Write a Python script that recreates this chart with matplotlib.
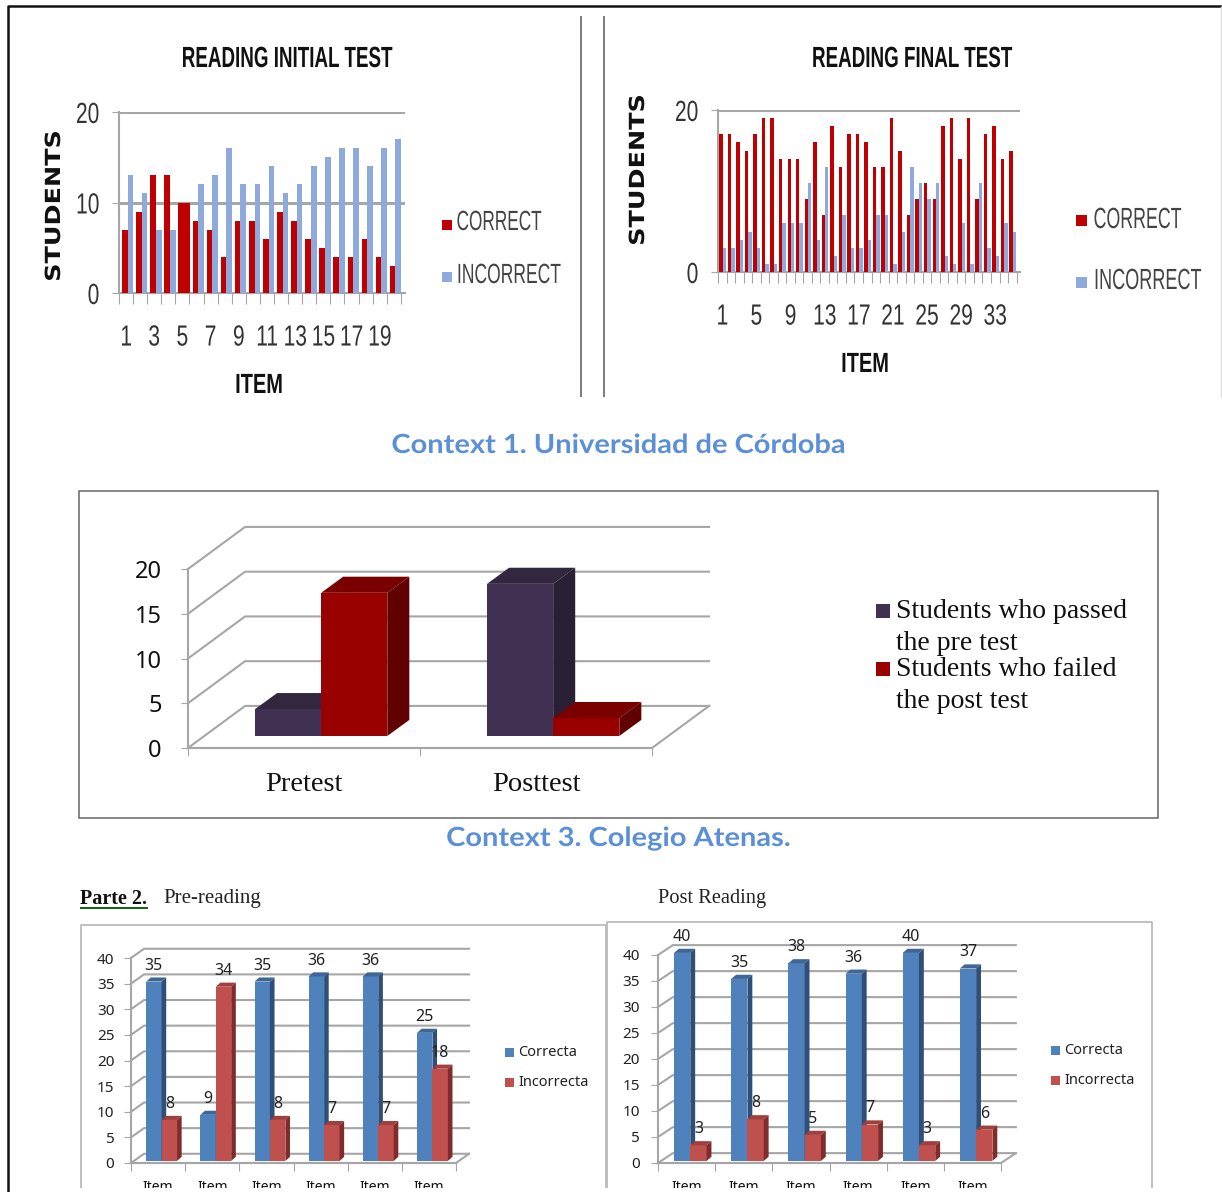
import numpy as np
import matplotlib
matplotlib.use("Agg")
import matplotlib.pyplot as plt
from matplotlib.patches import Rectangle
from matplotlib.patheffects import AbstractPathEffect
from matplotlib.transforms import Affine2D

# data
initial_correct = [7, 9, 13, 13, 10, 8, 7, 4, 8, 8, 6, 9, 8, 6, 5, 4, 4, 6, 4, 3]
initial_incorrect = [13, 11, 7, 7, 10, 12, 13, 16, 12, 12, 14, 11, 12, 14, 15, 16, 16, 14, 16, 17]
final_correct = [17, 17, 16, 15, 17, 19, 19, 14, 14, 14, 9, 16, 7, 18, 13, 17, 17, 16,
                 13, 13, 19, 15, 7, 9, 11, 9, 18, 19, 14, 19, 9, 17, 18, 14, 15]
final_incorrect = [3, 3, 4, 5, 3, 1, 1, 6, 6, 6, 11, 4, 13, 2, 7, 3, 3, 4,
                   7, 7, 1, 5, 13, 11, 9, 11, 2, 1, 6, 1, 11, 3, 2, 6, 5]
atenas_groups = ["Pretest", "Posttest"]
atenas_passed = [3, 17]
atenas_failed = [16, 2]
pre_correct = [35, 9, 35, 36, 36, 25]
pre_incorrect = [8, 34, 8, 7, 7, 18]
post_correct = [40, 35, 38, 36, 40, 37]
post_incorrect = [3, 8, 5, 7, 3, 6]
item_labels = ["Item"] * 6

W, H = 1222, 1192
SANS = ["Liberation Sans", "DejaVu Sans"]
SERIF = ["Liberation Serif", "DejaVu Serif"]
NOTO = ["Noto Sans", "DejaVu Sans"]
GREY = "#a6a6a6"
RED = "#c00000"
LBLUE = "#8ea9db"
CAPTION = "#5b8fd6"
BLUE3D = ["#4f81bd", "#3f6796", "#2f4f78"]
RED3D = ["#c0504d", "#a03f3c", "#7f2c2a"]
PURPLE3D = ["#403152", "#32273f", "#2a2035"]
DRED3D = ["#990000", "#7a0000", "#600000"]


class Squeeze(AbstractPathEffect):
    # no condensed font installed, so scale the glyphs sideways
    def __init__(self, sx, anchor=0.5):
        super().__init__()
        self.sx = sx
        self.anchor = anchor

    def draw_path(self, renderer, gc, tpath, affine, rgbFace=None):
        b = tpath.get_extents()
        c = b.x0 + (b.x1 - b.x0) * self.anchor
        t = Affine2D().translate(-c, 0).scale(self.sx, 1).translate(c, 0)
        renderer.draw_path(gc, tpath, t + affine, rgbFace)


fig = plt.figure(figsize=(W / 100, H / 100), dpi=100)


def axes_at(left, right, y0, ytop):
    ax = fig.add_axes([left / W, 1 - y0 / H, (right - left) / W, (y0 - ytop) / H])
    ax.patch.set_visible(False)
    for s in ["top", "right"]:
        ax.spines[s].set_visible(False)
    for s in ["left", "bottom"]:
        ax.spines[s].set_color(GREY)
        ax.spines[s].set_linewidth(1.5)
    return ax


def flat_chart(ax, correct, incorrect, width, shift, yticks, label_step):
    n = len(correct)
    x = np.arange(1, n + 1)
    colors = [RED if c == i else LBLUE for c, i in zip(correct, incorrect)]
    ax.bar(x - width + shift, correct, width, align="edge", color=RED, zorder=3)
    ax.bar(x + shift, incorrect, width, align="edge", color=colors, zorder=3)
    ax.set_ylim(0, 20)
    ax.set_yticks(yticks)
    ax.yaxis.grid(True, color=GREY, lw=2.2, zorder=1)
    ax.set_axisbelow(True)
    ax.set_xticks(np.arange(0.5, n + 1))
    ax.set_xticklabels([])
    ax.set_xticks(x[::label_step], minor=True)
    ax.set_xticklabels([str(v) for v in x[::label_step]], minor=True, family=SANS, fontsize=21, color="#333333")
    ax.tick_params(axis="x", which="major", length=8, color=GREY)
    ax.tick_params(axis="x", which="minor", length=0, pad=22)
    ax.tick_params(axis="y", length=5, color=GREY, labelsize=21, labelcolor="#333333", pad=9)
    for lab in ax.get_yticklabels():
        lab.set_family(SANS)
        lab.set_path_effects([Squeeze(0.72, 1)])
    for lab in ax.get_xticklabels(minor=True):
        lab.set_path_effects([Squeeze(0.72)])


def bar3d(ax, x, h, w, base, dx, dy, cols):
    ax.bar(x, h, w, bottom=base, align="edge", color=cols[0], zorder=5, clip_on=False)
    ax.fill([x, x + dx, x + w + dx, x + w], [base + h, base + h + dy, base + h + dy, base + h],
            color=cols[1], lw=0, zorder=5, clip_on=False)
    ax.fill([x + w, x + w + dx, x + w + dx, x + w], [base, base + dy, base + h + dy, base + h],
            color=cols[2], lw=0, zorder=5, clip_on=False)


def walls(ax, ticks, xmax, dx, dy, lw=1.5):
    for v in ticks:
        ax.plot([0, dx, xmax + dx], [v, v + dy, v + dy], color=GREY, lw=lw, zorder=1, clip_on=False)
    ax.plot([0, xmax, xmax + dx], [0, 0, dy], color=GREY, lw=lw, zorder=1, clip_on=False)


def chart3d(ax, series, colors, labels, ymax, step, width, shift, base, dx, dy, bdx, bdy, size, family, pad):
    n = len(labels)
    ax.set_xlim(0, n)
    ax.set_ylim(0, ymax)
    ticks = list(range(0, ymax + 1, step))
    walls(ax, ticks, n, dx, dy)
    for i in range(n):
        for k, vals in enumerate(series):
            bar3d(ax, i + shift + k * width, vals[i], width, base, bdx, bdy, colors[k])
    ax.set_yticks(ticks)
    ax.set_xticks(range(n + 1))
    ax.set_xticklabels([])
    ax.set_xticks(np.arange(n) + 0.5, minor=True)
    ax.set_xticklabels(labels, minor=True, family=family, fontsize=size, color="#111111")
    ax.tick_params(axis="x", which="major", length=6, color=GREY)
    ax.tick_params(axis="x", which="minor", length=0, pad=pad)
    ax.tick_params(axis="y", length=5, color=GREY, pad=4)


# Context 1 charts
ax1 = axes_at(119, 405, 293, 112)
ax1.set_xlim(0.5, 20.8)
flat_chart(ax1, initial_correct, initial_incorrect, 0.4, 0.12, [0, 10, 20], 2)

ax2 = axes_at(718, 1020, 272, 110)
ax2.set_xlim(0.5, 35.9)
flat_chart(ax2, final_correct, final_incorrect, 0.4, 0.05, [0, 20], 4)

# Context 3 chart
ax3 = axes_at(188, 652, 748, 569)
chart3d(ax3, [atenas_passed, atenas_failed], [PURPLE3D, DRED3D], atenas_groups, 20, 5,
        0.285, 0.289, 1.34, 0.246, 4.7, 0.095, 1.8, 20.5, SERIF, 17.5)
ax3.tick_params(axis="y", labelsize=17, labelcolor="#111111", pad=14)

# Pre reading
ax4 = axes_at(131, 456, 1163, 958)
chart3d(ax4, [pre_correct, pre_incorrect], [BLUE3D, RED3D], item_labels, 40, 5,
        0.285, 0.28, 0.4, 0.24, 1.8, 0.085, 0.8, 10, NOTO, 12)
ax4.tick_params(axis="y", labelsize=11, labelcolor="#222222", pad=7)

# Post reading
ax5 = axes_at(658, 1001, 1163, 955)
chart3d(ax5, [post_correct, post_incorrect], [BLUE3D, RED3D], item_labels, 40, 5,
        0.285, 0.28, 0.4, 0.26, 1.9, 0.085, 0.8, 10, NOTO, 12)
ax5.tick_params(axis="y", labelsize=11, labelcolor="#222222", pad=8)

for ax, vals_a, vals_b in [(ax4, pre_correct, pre_incorrect), (ax5, post_correct, post_incorrect)]:
    for i in range(6):
        ax.text(i + 0.28 + 0.142, vals_a[i] + 3.5, str(vals_a[i]), ha="center", va="center",
                fontsize=11.5, color="#222222", family=NOTO, zorder=8, clip_on=False)
        ax.text(i + 0.565 + 0.142, vals_b[i] + 3.5, str(vals_b[i]), ha="center", va="center",
                fontsize=11.5, color="#222222", family=NOTO, zorder=8, clip_on=False)

for ax in [ax3, ax4, ax5]:
    for lab in ax.get_yticklabels():
        lab.set_family(NOTO)

# page furniture, in pixel coordinates
page = fig.add_axes([0, 0, 1, 1], zorder=10)
page.set_xlim(0, W)
page.set_ylim(H, 0)
page.axis("off")


def line(xs, ys, color="#111111", lw=1.5):
    page.plot(xs, ys, color=color, lw=lw, solid_capstyle="butt")


def label(x, y, s, size, color="#222222", family=SANS, weight="normal", ha="left", rotation=0, sx=None):
    t = page.text(x, y, s, fontsize=size, color=color, family=family, weight=weight,
                  ha=ha, va="center", rotation=rotation)
    if sx is not None:
        t.set_path_effects([Squeeze(sx, 0 if ha == "left" else 0.5)])
    return t


def swatch(x, y, size, color):
    page.add_patch(Rectangle((x, y - size / 2), size, size, color=color, lw=0))


line([8, 8, 1222], [1192, 6, 6], lw=1.8)
line([581, 581], [16, 397], "#666666", 1.2)
line([604, 604], [16, 397], "#666666", 1.2)
line([1221, 1221], [6, 397], "#dddddd", 1)

label(287, 59, "READING INITIAL TEST", 21, "#111111", weight="bold", ha="center", sx=0.645)
label(912, 59, "READING FINAL TEST", 21, "#111111", weight="bold", ha="center", sx=0.645)
label(259, 386, "ITEM", 20, "#111111", weight="bold", ha="center", sx=0.72)
label(865, 365, "ITEM", 20, "#111111", weight="bold", ha="center", sx=0.72)
label(54, 206, "STUDENTS", 15, "#111111", ["DejaVu Sans"], "bold", "center", 90, sx=1.22)
label(638, 170, "STUDENTS", 15, "#111111", ["DejaVu Sans"], "bold", "center", 90, sx=1.22)

swatch(442, 225, 10, RED)
label(456, 223, "CORRECT", 20, "#444444", sx=0.62)
swatch(442, 277, 10, LBLUE)
label(456, 276, "INCORRECT", 20, "#444444", sx=0.63)
swatch(1076, 220, 11, RED)
label(1093, 220, "CORRECT", 21, "#444444", sx=0.61)
swatch(1076, 282, 11, LBLUE)
label(1093, 281, "INCORRECT", 21, "#444444", sx=0.62)

label(618, 445, "Context 1. Universidad de Córdoba", 19, CAPTION, ["Lato", "DejaVu Sans"], "bold", "center", sx=1.1)
label(618, 838, "Context 3. Colegio Atenas.", 19, CAPTION, ["Lato", "DejaVu Sans"], "bold", "center", sx=1.1)

page.add_patch(Rectangle((79, 491), 1079, 327, fill=False, ec="#666666", lw=1.1))
swatch(876, 611, 14, PURPLE3D[0])
label(896, 612, "Students who passed", 20, "#111111", SERIF)
label(896, 644, "the pre test", 20, "#111111", SERIF)
swatch(876, 669, 14, DRED3D[0])
label(896, 669, "Students who failed", 20, "#111111", SERIF)
label(896, 702, "the post test", 20, "#111111", SERIF)

label(80, 899, "Parte 2.", 14.5, "#111111", SERIF, "bold")
line([80, 148], [908, 908], "#1f5f1f", 1.5)
label(163, 899, "Pre-reading", 15, "#222222", SERIF)
label(658, 899, "Post Reading", 14.7, "#222222", SERIF)

line([81, 81, 606, 606], [1188, 925, 925, 1188], "#bbbbbb", 1.3)
line([607, 607, 1152, 1152], [1188, 922, 922, 1188], "#bbbbbb", 1.3)

swatch(505, 1052, 9, BLUE3D[0])
label(518, 1052, "Correcta", 10.5, "#222222", NOTO)
swatch(505, 1082, 9, RED3D[0])
label(518, 1082, "Incorrecta", 10.5, "#222222", NOTO)
swatch(1051, 1050, 9, BLUE3D[0])
label(1064, 1050, "Correcta", 10.5, "#222222", NOTO)
swatch(1051, 1080, 9, RED3D[0])
label(1064, 1080, "Incorrecta", 10.5, "#222222", NOTO)

# reference is cut off just below the Item labels
page.add_patch(Rectangle((12, 1188), W, 10, color="white", lw=0, zorder=20))

fig.savefig("out.png", dpi=100)
